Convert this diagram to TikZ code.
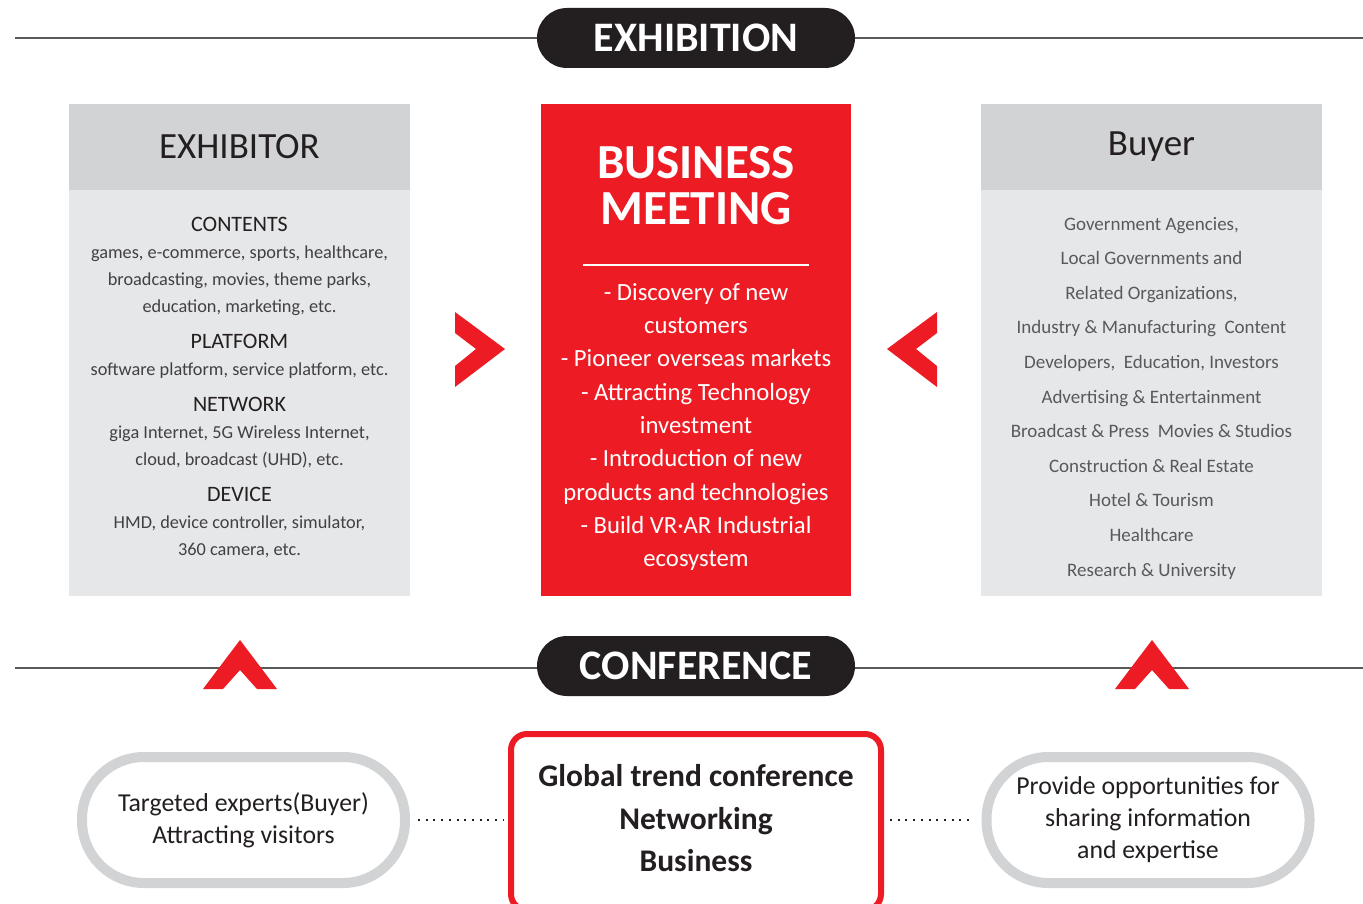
\documentclass[tikz,border=0pt]{standalone}
\usepackage{fontspec}
\setmainfont{Carlito}
\usetikzlibrary{positioning}
\definecolor{kred}{HTML}{ED1C24}
\definecolor{hdgray}{HTML}{D1D3D4}
\definecolor{bdgray}{HTML}{E6E7E8}
\definecolor{pillblack}{HTML}{231F20}
\definecolor{txtgray}{HTML}{414042}
\definecolor{lightgray}{HTML}{58595B}
\newcommand{\fsz}[2]{\fontsize{#1}{#2}\selectfont}

\tikzset{
  blackpill/.style={fill=pillblack, rounded corners=30pt, minimum width=318pt, minimum height=60pt, inner sep=0pt, text=white, font=\fsz{42}{48}\bfseries},
  hdrbox/.style={fill=hdgray, minimum width=341pt, minimum height=86pt, inner sep=0pt, text=pillblack, font=\fsz{37}{44}},
  bodybox/.style={fill=bdgray, minimum width=341pt, minimum height=406pt, inner sep=0pt},
  graypill/.style={draw=hdgray, line width=10pt, fill=white, rounded corners=62pt, minimum width=323pt, minimum height=126pt, align=center, text=pillblack, font=\fsz{25.8}{32}},
  redframe/.style={draw=kred, line width=6pt, fill=white, rounded corners=16pt, minimum width=370pt, minimum height=176pt},
  dotline/.style={pillblack, line width=2pt, dash pattern=on 2pt off 5.7pt},
  rule/.style={draw=black!65, line width=1.2pt},
  chevron/.style={fill=kred}
}

\begin{document}
\begin{tikzpicture}[x=1pt, y=-1pt]
\useasboundingbox (0,0) rectangle (1363,904);
\fill[white] (0,0) rectangle (1363,904);

% EXHIBITION band
\coordinate (tl) at (15,38);
\coordinate (tr) at (1363,38);
\node[blackpill] (exhib) at (696,38) {EXHIBITION};
\draw[rule] (tl) -- (exhib.west);
\draw[rule] (exhib.east) -- (tr);

% exhibitor column
\node[hdrbox] (exhhead) at (239.5,147) {EXHIBITOR};
\node[bodybox, below=0pt of exhhead] (exhbody) {};
\node[font=\fsz{18.3}{27}, text=txtgray, align=center] (exhlist) at (239.5,388) {%
  {\fsz{22}{27}\color{pillblack}CONTENTS}\\
  games, e-commerce, sports, healthcare,\\
  broadcasting, movies, theme parks,\\
  education, marketing, etc.\\[9pt]
  {\fsz{22}{27}\color{pillblack}PLATFORM}\\
  software platform, service platform, etc.\\[9pt]
  {\fsz{22}{27}\color{pillblack}NETWORK}\\
  giga Internet, 5G Wireless Internet,\\
  cloud, broadcast (UHD), etc.\\[9pt]
  {\fsz{22}{27}\color{pillblack}DEVICE}\\
  HMD, device controller, simulator,\\
  360 camera, etc.};

% business meeting
\node[fill=kred, minimum width=310pt, minimum height=492pt, inner sep=0pt] (meet) at (696,350) {};
\node[text=white, font=\fsz{49}{46}\bfseries, align=center] (meettitle) at (696,186) {BUSINESS\\MEETING};
\draw[white, line width=2.5pt] (583,265) -- (809,265);
\node[text=white, font=\fsz{24.7}{33.3}, align=center] (meetlist) at (696,427) {%
  - Discovery of new\\ customers\\
  - Pioneer overseas markets\\
  - Attracting Technology\\ investment\\
  - Introduction of new\\ products and technologies\\
  - Build VR·AR Industrial\\ ecosystem};

% buyer column
\node[hdrbox] (buyhead) at (1151.5,147) {Buyer};
\node[bodybox, below=0pt of buyhead] (buybody) {};
\node[font=\fsz{19}{34.6}, text=lightgray, align=center] (buylist) at (1151.5,398) {%
  Government Agencies,\\
  Local Governments and\\
  Related Organizations,\\
  Industry \& Manufacturing\ \ Content\\
  Developers,\ \ Education, Investors\\
  Advertising \& Entertainment\\
  Broadcast \& Press\ \ Movies \& Studios\\
  Construction \& Real Estate\\
  Hotel \& Tourism\\
  Healthcare\\
  Research \& University};

% arrows into the meeting box
\fill[chevron] (455,312) -- (505,349) -- (455,387) -- (455,366) -- (476,349) -- (455,333) -- cycle;
\fill[chevron] (937,312) -- (887,349) -- (937,387) -- (937,366) -- (916,349) -- (937,333) -- cycle;

% CONFERENCE band
\coordinate (bl) at (15,668);
\coordinate (br) at (1363,668);
\node[blackpill] (conf) at (696,666) {CONFERENCE};
\draw[rule] (bl) -- (bl -| conf.west);
\draw[rule] (br -| conf.east) -- (br);
\fill[chevron] (203,689) -- (240,640) -- (277,689) -- (257,689) -- (240,670) -- (223,689) -- cycle;
\fill[chevron] (1115,689) -- (1152,640) -- (1189,689) -- (1169,689) -- (1152,670) -- (1135,689) -- cycle;

% bottom row
\node[graypill] (lpill) at (243.5,820) {Targeted experts(Buyer)\\ Attracting visitors};
\node[redframe] (bizconf) at (696,822) {};
\node[align=center, font=\fsz{31.5}{42.5}\bfseries, text=pillblack] (bizconftext) at (696,818.5) {Global trend conference\\ Networking\\ Business};
\node[graypill] (rpill) at (1148,820) {Provide opportunities for\\ sharing information\\ and expertise};
\draw[dotline, shorten <=8pt, shorten >=5pt] (lpill.east) -- (lpill.east -| bizconf.west);
\draw[dotline, shorten <=6pt, shorten >=7pt] (rpill.west -| bizconf.east) -- (rpill.west);
\end{tikzpicture}
\end{document}
